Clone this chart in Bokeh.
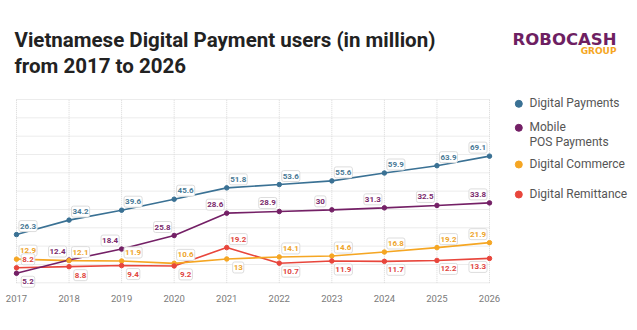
from bokeh.plotting import figure
from bokeh.models import ColumnDataSource, Range1d, Label
from bokeh.core.properties import value
from bokeh.embed import file_html
from bokeh.resources import INLINE

years = [2017, 2018, 2019, 2020, 2021, 2022, 2023, 2024, 2025, 2026]
year_labels = ["2017", "2018", "2019", "2020", "2021", "2022", "2023", "2024", "2025", "2026"]
digital_payments = [26.3, 34.2, 39.6, 45.6, 51.8, 53.6, 55.6, 59.9, 63.9, 69.1]
# mobile POS line as drawn in the picture (from 2021 the line sits above its labels)
mobile_pos_line = [5.2, 12.4, 18.4, 25.8, 38.0, 38.9, 39.8, 40.9, 42.2, 43.6]
mobile_pos_labels = [5.2, 12.4, 18.4, 25.8, 28.6, 28.9, 30, 31.3, 32.5, 33.8]
digital_commerce = [12.9, 12.1, 11.9, 10.6, 13, 14.1, 14.6, 16.8, 19.2, 21.9]
digital_remittance = [8.2, 8.8, 9.4, 9.2, 19.2, 10.7, 11.9, 11.7, 12.2, 13.3]
y_grid_values = [0, 10, 20, 30, 40, 50, 60, 70, 80, 90, 100]

series_names = ["Digital Payments", "Mobile\nPOS Payments", "Digital Commerce", "Digital Remittance"]
colors = ["#3a7194", "#742066", "#f5a623", "#e8463c"]
label_colors = ["#4a7a96", "#7a2a6c", "#eea52c", "#e0463f"]

# label placement: ra = right-above, la = left-above, rb = right-below, lb = left-below
place_dp = ["ra"] * 9 + ["la"]
place_mp = ["rb"] + ["la"] * 9
place_dc = ["ra", "ra", "ra", "ra", "rb", "ra", "ra", "ra", "ra", "la"]
place_dr = ["ra", "rb", "rb", "rb", "ra", "rb", "rb", "rb", "rb", "lb"]
OFF = {"ra": (11.5, -8.5), "la": (-11.5, -8.5), "rb": (11.5, 8.5), "lb": (-11.5, 8.5)}

# ---- layout (canvas pixels) ----
W, H = 637, 330
PLOT_L, PLOT_R = 16.0, 489.0      # x of first / last year
PLOT_B, PLOT_T = 282.3, 99.0      # y of value 0 / value 100
x0, x1 = years[0], years[-1]
ppx = (PLOT_R - PLOT_L) / (x1 - x0)
ppy = (PLOT_B - PLOT_T) / 100.0
xr = Range1d(x0 - PLOT_L / ppx, x1 + (W - PLOT_R) / ppx)
yr = Range1d(-(H - PLOT_B) / ppy, PLOT_B / ppy)

def dx(px):
    return xr.start + px / ppx

def dy(py):
    return yr.end - py / ppy

def sy(py):
    return H - py

p = figure(width=W, height=H, output_backend="svg", toolbar_location=None,
           x_range=xr, y_range=yr, x_axis_location=None, y_axis_location=None,
           min_border=0)
p.outline_line_color = None
p.background_fill_color = "white"
p.border_fill_color = "white"
for g in p.grid:
    g.visible = False

# dotted grid
grid_col = "#d8d8d8"
p.segment(x0=years, y0=[y_grid_values[0]] * len(years), x1=years, y1=[y_grid_values[-1]] * len(years),
          line_color=grid_col, line_width=1, line_dash="1 1")
p.segment(x0=[x0] * len(y_grid_values), y0=y_grid_values, x1=[x1] * len(y_grid_values), y1=y_grid_values,
          line_color=grid_col, line_width=1, line_dash="1 1")

# year labels
p.text(x=years, y=[0] * len(years), text=year_labels, y_offset=15.5,
       text_align="center", text_baseline="middle", text_font=value("Roboto"),
       text_font_size="9.5px", text_color="#7a7a7a")

line_data = [digital_payments, mobile_pos_line, digital_commerce, digital_remittance]
label_data = [digital_payments, mobile_pos_labels, digital_commerce, digital_remittance]
places = [place_dp, place_mp, place_dc, place_dr]

for i in [3, 2, 1, 0]:
    p.line(years, line_data[i], line_color=colors[i], line_width=1.6)
for i in range(4):
    p.scatter(years, line_data[i], size=4.5, color=colors[i])

for i in range(4):
    src = ColumnDataSource(dict(
        x=years, y=line_data[i],
        t=[("%g" % v) for v in label_data[i]],
        xo=[OFF[k][0] for k in places[i]],
        yo=[OFF[k][1] for k in places[i]],
    ))
    p.text(x="x", y="y", text="t", source=src, x_offset="xo", y_offset="yo",
           text_align="center", text_baseline="middle",
           text_font=value("Roboto"), text_font_size="8px", text_font_style="bold",
           text_color=label_colors[i],
           background_fill_color="white", border_line_color="#dddddd",
           padding=(1, 3), border_radius=2)

# title
title_lines = ["Vietnamese Digital Payment users (in million)", "from 2017 to 2026"]
for txt, base in zip(title_lines, [39.3, 65.7]):
    p.add_layout(Label(x=14, y=sy(base), x_units="screen", y_units="screen", text=txt,
                       text_font="Roboto", text_font_style="bold", text_font_size="20.5px",
                       text_color="#222222", text_baseline="alphabetic"))

# logo text
p.add_layout(Label(x=616, y=sy(39.3), x_units="screen", y_units="screen",
                   text="ROBOCASH", text_align="right",
                   text_font="DejaVu Sans", text_font_style="bold", text_font_size="16.5px",
                   text_color="#6e1f62", text_baseline="alphabetic"))
p.add_layout(Label(x=616, y=sy(50.0), x_units="screen", y_units="screen",
                   text="GROUP", text_align="right",
                   text_font="DejaVu Sans", text_font_style="bold", text_font_size="9px",
                   text_color="#f5a623", text_baseline="alphabetic"))

# legend (drawn by hand)
LEG_MX, LEG_TX = 518.3, 529.0
marker_cy = [103.3, 127.3, 164.0, 194.0]
p.scatter(x=[dx(LEG_MX)] * 4, y=[dy(c) for c in marker_cy], size=7, color=colors)
for name, c in zip(series_names, marker_cy):
    for j, part in enumerate(name.split("\n")):
        p.add_layout(Label(x=LEG_TX, y=sy(c - 0.5 + j * 14.3), x_units="screen", y_units="screen",
                           text=part, text_font="Roboto", text_font_size="12px",
                           text_color="#555555", text_baseline="middle"))

open("out.html", "w").write(file_html(p, INLINE))
